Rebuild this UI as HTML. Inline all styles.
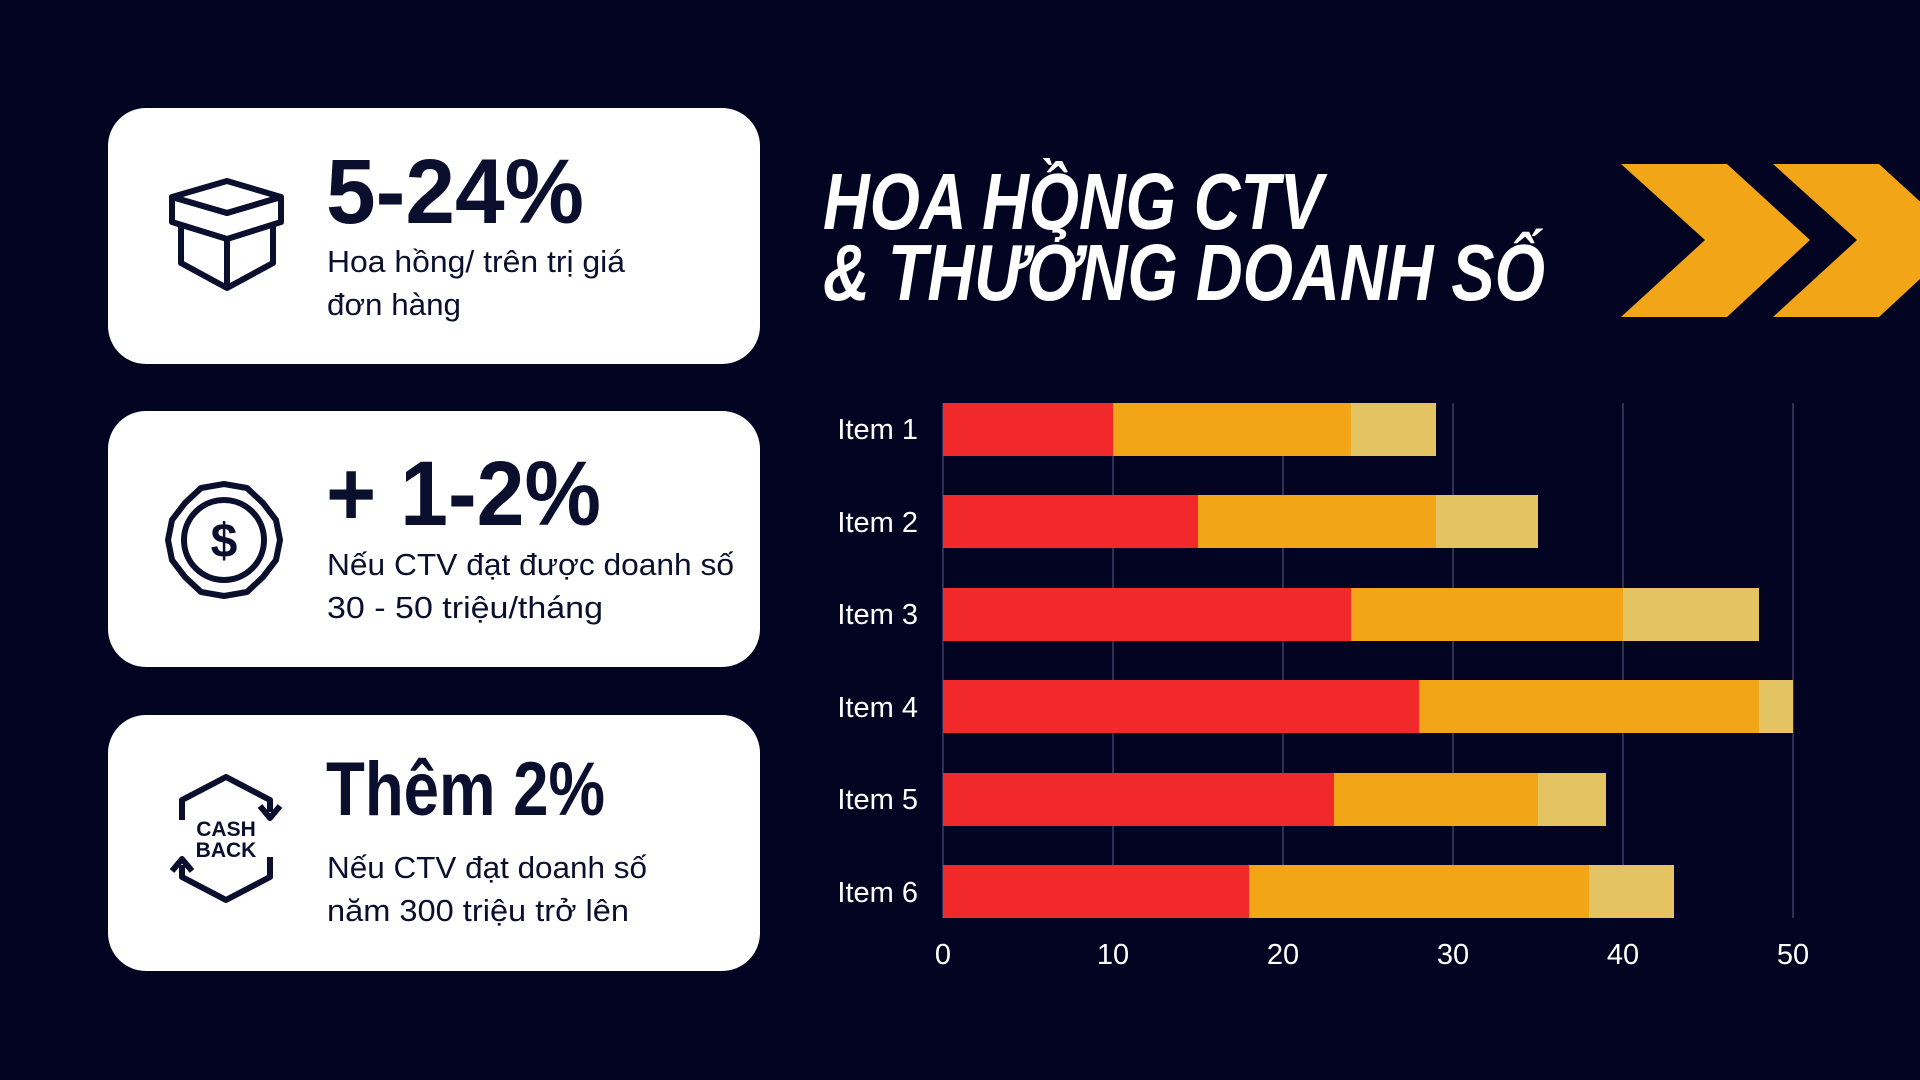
<!DOCTYPE html>
<html><head><meta charset="utf-8"><style>
html,body{margin:0;padding:0;background:#020421;}
svg{display:block}
</style></head><body>
<svg width="1920" height="1080" viewBox="0 0 1920 1080" xmlns="http://www.w3.org/2000/svg">
<rect width="1920" height="1080" fill="#020421"/>
<rect x="108" y="108" width="652" height="256" rx="38" fill="#fff"/>
<rect x="108" y="411" width="652" height="256" rx="38" fill="#fff"/>
<rect x="108" y="715" width="652" height="256" rx="38" fill="#fff"/>
<g font-family="Liberation Sans, sans-serif" fill="#0b0f2e">
<text x="326" y="223" font-size="92" font-weight="bold" textLength="258" lengthAdjust="spacingAndGlyphs">5-24%</text>
<text x="327" y="272" font-size="31" textLength="298" lengthAdjust="spacingAndGlyphs">Hoa hồng/ trên trị giá</text>
<text x="327" y="315" font-size="31" textLength="134" lengthAdjust="spacingAndGlyphs">đơn hàng</text>
<text x="326" y="525" font-size="92" font-weight="bold" textLength="275" lengthAdjust="spacingAndGlyphs">+ 1-2%</text>
<text x="327" y="575" font-size="31" textLength="407" lengthAdjust="spacingAndGlyphs">Nếu CTV đạt được doanh số</text>
<text x="327" y="618" font-size="31" textLength="276" lengthAdjust="spacingAndGlyphs">30 - 50 triệu/tháng</text>
<text x="326" y="815" font-size="76" font-weight="bold" textLength="279" lengthAdjust="spacingAndGlyphs">Thêm 2%</text>
<text x="327" y="878" font-size="31" textLength="320" lengthAdjust="spacingAndGlyphs">Nếu CTV đạt doanh số</text>
<text x="327" y="921" font-size="31" textLength="302" lengthAdjust="spacingAndGlyphs">năm 300 triệu trở lên</text>
</g>
<g fill="none" stroke="#0b0f2e" stroke-width="6" stroke-linejoin="round">
<polygon points="172,197 227,181 281,197 227,213"/>
<polygon points="172,197 172,222 227,239 281,222 281,197 227,213"/>
<polyline points="181,225 181,263 227,288 273,263 273,225"/>
<line x1="227" y1="239" x2="227" y2="288"/>
<polygon points="224,484 247,488 263,503 276,520 280,540 276,560 263,577 247,592 224,596 201,592 185,577 172,560 168,540 172,520 185,503 201,488"/>
<circle cx="224" cy="540" r="40"/>
<polyline points="182,820 182,800 226,777 270,800 270,812"/>
<polyline points="260,806 270,818 280,806"/>
<polyline points="270,857 270,877 226,900 182,877 182,865"/>
<polyline points="172,871 182,859 192,871"/>
</g>
<text x="224" y="557" font-family="Liberation Sans, sans-serif" font-size="48" font-weight="bold" fill="#0b0f2e" text-anchor="middle">$</text>
<text x="226" y="836" font-family="Liberation Sans, sans-serif" font-size="21" font-weight="bold" fill="#0b0f2e" text-anchor="middle">CASH</text>
<text x="226" y="857" font-family="Liberation Sans, sans-serif" font-size="21" font-weight="bold" fill="#0b0f2e" text-anchor="middle">BACK</text>
<g font-family="Liberation Sans, sans-serif" font-weight="bold" font-style="italic" fill="#fff">
<text x="823" y="229" font-size="80" textLength="500" lengthAdjust="spacingAndGlyphs">HOA HỒNG CTV</text>
<text x="823" y="300" font-size="80" textLength="722" lengthAdjust="spacingAndGlyphs">&amp; THƯỞNG DOANH SỐ</text>
</g>
<polygon fill="#F2A516" points="1621,164 1727,164 1810,240 1727,317 1621,317 1705,240"/>
<polygon fill="#F2A516" points="1773,164 1879,164 1962,240 1879,317 1773,317 1857,240"/>
<g stroke="#3a3f63" stroke-width="1.5">
<line x1="943" y1="403" x2="943" y2="918"/>
<line x1="1113" y1="403" x2="1113" y2="918"/>
<line x1="1283" y1="403" x2="1283" y2="918"/>
<line x1="1453" y1="403" x2="1453" y2="918"/>
<line x1="1623" y1="403" x2="1623" y2="918"/>
<line x1="1793" y1="403" x2="1793" y2="918"/>
</g>
<g>
<rect x="943" y="403" width="170" height="53" fill="#F2292A"/><rect x="1113" y="403" width="238" height="53" fill="#F2A516"/><rect x="1351" y="403" width="85" height="53" fill="#E4C462"/>
<rect x="943" y="495" width="255" height="53" fill="#F2292A"/><rect x="1198" y="495" width="238" height="53" fill="#F2A516"/><rect x="1436" y="495" width="102" height="53" fill="#E4C462"/>
<rect x="943" y="588" width="408" height="53" fill="#F2292A"/><rect x="1351" y="588" width="272" height="53" fill="#F2A516"/><rect x="1623" y="588" width="136" height="53" fill="#E4C462"/>
<rect x="943" y="680" width="476" height="53" fill="#F2292A"/><rect x="1419" y="680" width="340" height="53" fill="#F2A516"/><rect x="1759" y="680" width="34" height="53" fill="#E4C462"/>
<rect x="943" y="773" width="391" height="53" fill="#F2292A"/><rect x="1334" y="773" width="204" height="53" fill="#F2A516"/><rect x="1538" y="773" width="68" height="53" fill="#E4C462"/>
<rect x="943" y="865" width="306" height="53" fill="#F2292A"/><rect x="1249" y="865" width="340" height="53" fill="#F2A516"/><rect x="1589" y="865" width="85" height="53" fill="#E4C462"/>
</g>
<g font-family="Liberation Sans, sans-serif" font-size="29" fill="#fff" text-anchor="end">
<text x="918" y="439">Item 1</text>
<text x="918" y="532">Item 2</text>
<text x="918" y="624">Item 3</text>
<text x="918" y="717">Item 4</text>
<text x="918" y="809">Item 5</text>
<text x="918" y="902">Item 6</text>
</g>
<g font-family="Liberation Sans, sans-serif" font-size="29" fill="#fff" text-anchor="middle">
<text x="943" y="964">0</text>
<text x="1113" y="964">10</text>
<text x="1283" y="964">20</text>
<text x="1453" y="964">30</text>
<text x="1623" y="964">40</text>
<text x="1793" y="964">50</text>
</g>
</svg>
</body></html>
